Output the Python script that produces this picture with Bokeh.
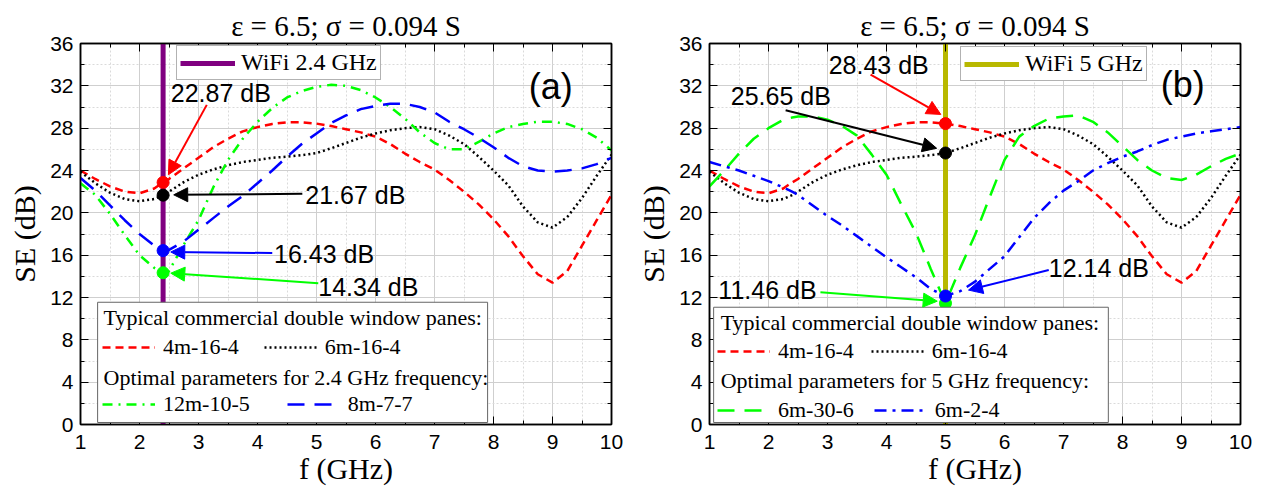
from bokeh.plotting import figure
from bokeh.layouts import row
from bokeh.models import (Label, Arrow, NormalHead, Legend, LegendItem, BoxAnnotation,
                          LinearAxis, SingleIntervalTicker, Range1d)
from bokeh.embed import file_html
from bokeh.resources import INLINE

# ---------------- data ----------------
freq = [1.0, 1.25, 1.5, 1.75, 2.0, 2.25, 2.4, 2.5, 2.75, 3.0, 3.25, 3.5, 3.75, 4.0, 4.25,
        4.5, 4.75, 5.0, 5.25, 5.5, 5.75, 6.0, 6.25, 6.5, 6.75, 7.0, 7.25, 7.5, 7.75, 8.0,
        8.25, 8.5, 8.75, 9.0, 9.25, 9.5, 9.75, 10.0]

se_4m_16_4 = [24.0, 23.2, 22.5, 22.0, 21.85, 22.3, 22.87, 23.2, 24.2, 25.2, 26.2, 27.0, 27.7,
              28.1, 28.4, 28.55, 28.55, 28.43, 28.2, 27.9, 27.6, 27.2, 26.5, 25.6, 24.8, 24.1,
              23.1, 22.0, 20.8, 19.4, 17.8, 15.9, 14.2, 13.4, 14.5, 16.9, 19.3, 21.7]
se_6m_16_4 = [23.9, 22.8, 21.9, 21.3, 21.1, 21.3, 21.67, 22.0, 22.9, 23.6, 24.1, 24.5, 24.8,
              25.0, 25.2, 25.3, 25.45, 25.65, 26.1, 26.6, 27.1, 27.5, 27.8, 28.0, 28.1, 27.9,
              27.3, 26.5, 25.3, 24.0, 22.6, 20.6, 19.1, 18.6, 19.6, 21.4, 23.5, 25.5]
se_12m_10_5 = [22.8, 21.7, 19.9, 17.9, 16.0, 14.8, 14.34, 14.5, 17.0, 19.3, 22.4, 25.0, 27.0,
               28.6, 29.9, 30.9, 31.5, 31.9, 32.1, 32.0, 31.6, 30.9, 30.0, 28.9, 27.6, 26.6,
               26.0, 26.0, 26.7, 27.5, 28.1, 28.4, 28.6, 28.6, 28.4, 27.9, 27.1, 25.9]
se_8m_7_7 = [23.3, 22.1, 20.7, 19.3, 18.0, 16.9, 16.43, 16.5, 17.3, 18.4, 19.5, 20.6, 21.6,
             22.8, 24.0, 25.3, 26.5, 27.5, 28.5, 29.2, 29.8, 30.1, 30.3, 30.3, 30.0, 29.5,
             28.6, 27.9, 27.1, 26.2, 25.2, 24.4, 24.0, 23.9, 24.0, 24.2, 24.6, 25.2]
se_6m_30_6 = [22.5, 24.0, 25.6, 27.0, 28.0, 28.8, 29.0, 29.1, 29.1, 28.8, 28.2, 27.3, 25.5,
              23.6, 20.8, 18.1, 14.7, 11.46, 14.8, 17.9, 21.5, 25.0, 27.2, 28.2, 28.9, 29.1,
              29.2, 28.6, 27.6, 26.3, 25.0, 24.0, 23.3, 23.1, 23.6, 24.4, 25.1, 25.6]
se_6m_2_4 = [24.8, 24.4, 24.0, 23.5, 23.0, 22.4, 22.0, 21.7, 20.7, 19.7, 18.8, 17.8, 16.8,
             15.8, 14.85, 13.9, 12.8, 12.14, 12.6, 13.5, 14.7, 15.9, 17.7, 19.5, 20.9, 22.1,
             23.0, 24.0, 24.7, 25.3, 25.8, 26.4, 26.9, 27.2, 27.5, 27.7, 27.9, 28.1]

wifi_a = 2.4
wifi_b = 5.0
title_text = "\u03b5 = 6.5; \u03c3 = 0.094 S"
header_typ = "Typical commercial double window panes:"
header_opt_a = "Optimal parameters for 2.4 GHz frequency:"
header_opt_b = "Optimal parameters for 5 GHz frequency:"

SERIF = "Liberation Serif"
SANS = "Liberation Sans"
TICKFONT = "Liberation Sans"


def base_panel(min_left, min_right):
    p = figure(frame_width=531, frame_height=381, x_range=Range1d(1, 10), y_range=Range1d(0, 36),
               output_backend="svg", toolbar_location=None,
               min_border_left=min_left, min_border_right=min_right,
               min_border_top=43, min_border_bottom=54)
    p.title.text = title_text
    p.title.text_font = SERIF
    p.title.text_font_size = "29px"
    p.title.text_font_style = "normal"
    p.title.text_color = "black"
    p.title.align = "center"
    p.title.standoff = 4
    xt = SingleIntervalTicker(interval=1, num_minor_ticks=2)
    yt = SingleIntervalTicker(interval=4, num_minor_ticks=2)
    p.xaxis.ticker = xt
    p.yaxis.ticker = yt
    p.xgrid.ticker = xt
    p.ygrid.ticker = yt
    for g in (p.xgrid, p.ygrid):
        g.grid_line_color = "#cfcfcf"
        g.grid_line_width = 1
        g.minor_grid_line_color = "#dadada"
        g.minor_grid_line_dash = "2 2"
    p.outline_line_color = "black"
    p.outline_line_width = 1.5
    p.xaxis.axis_label = "f (GHz)"
    p.yaxis.axis_label = "SE (dB)"
    for ax in (p.xaxis, p.yaxis):
        ax.axis_label_text_font = SERIF
        ax.axis_label_text_font_size = "30px"
        ax.axis_label_text_font_style = "normal"
        ax.axis_label_text_color = "black"
        ax.axis_label_standoff = 6
        ax.major_label_text_font = TICKFONT
        ax.major_label_text_font_size = "21px"
        ax.major_label_text_color = "black"
        ax.major_tick_in = 8
        ax.major_tick_out = 0
        ax.minor_tick_in = 4
        ax.minor_tick_out = 0
        ax.major_label_standoff = 7
        ax.axis_line_width = 1.5
        ax.major_tick_line_color = "black"
        ax.minor_tick_line_color = "black"
    p.xaxis.axis_label_standoff = 0
    p.xaxis.major_label_standoff = 10
    # mirrored ticks on top and right
    for place, tk in (("above", xt), ("right", yt)):
        ax = LinearAxis(ticker=tk, major_tick_in=8, major_tick_out=0, minor_tick_in=4,
                        minor_tick_out=0, major_label_text_font_size="0px",
                        major_label_standoff=0, axis_line_width=1.5)
        p.add_layout(ax, place)
    return p


def add_panel_content(p, wifi_f, wifi_color, wifi_label, series, vline_leg_loc,
                      box, headers, rows, annotations, tag, tag_pos):
    # wifi vertical line
    vl = p.line([wifi_f, wifi_f], [p.y_range.start, p.y_range.end], line_color=wifi_color,
                line_width=5)
    rends = []
    for name, ys, color, dash, lw in series:
        r = p.line(freq, ys, line_color=color, line_dash=dash, line_width=lw)
        rends.append((name, r, ys, color))
    idx = freq.index(wifi_f)
    for name, r, ys, color in rends:
        p.scatter([wifi_f], [ys[idx]], size=12, color=color)
    # top legend
    lg = Legend(items=[LegendItem(label=wifi_label, renderers=[vl])], location=vline_leg_loc,
                label_text_font=SERIF, label_text_font_size="24px", label_text_color="black",
                glyph_width=55, label_standoff=6, padding=3, margin=0,
                border_line_color="#666666", border_line_width=1,
                background_fill_color="white", background_fill_alpha=1)
    p.add_layout(lg)
    # bottom legend box
    l, r_, b, t = box
    p.add_layout(BoxAnnotation(left=l, right=r_, bottom=b, top=t, fill_color="white",
                               fill_alpha=1, line_color="#666666", line_width=1, line_alpha=1))
    for text, (hx, hy) in headers:
        p.add_layout(Label(x=hx, y=hy, text=text, text_font=SERIF, text_font_size="22px",
                           text_color="black", text_baseline="middle", text_align="left"))
    lookup = {name: r for name, r, ys, color in rends}
    for names, loc, spacing in rows:
        items = [LegendItem(label=n, renderers=[lookup[n]]) for n in names]
        lgr = Legend(items=items, orientation="horizontal", location=loc, padding=0, margin=0,
                     spacing=spacing, glyph_width=53, label_standoff=8,
                     border_line_alpha=0, background_fill_alpha=0,
                     label_text_font=SERIF, label_text_font_size="22px",
                     label_text_color="black", label_height=24, glyph_height=24)
        p.add_layout(lgr)
    # value annotations
    vals = {name: ys[idx] for name, r, ys, color in rends}
    cols = {name: color for name, r, ys, color in rends}
    for name, (lx, ly), (sx, sy), (ex, ey) in annotations:
        c = cols[name]
        p.add_layout(Arrow(end=NormalHead(size=14, fill_color=c, line_color=c),
                           x_start=sx, y_start=sy, x_end=ex, y_end=ey,
                           line_color=c, line_width=2))
        p.add_layout(Label(x=lx, y=ly, text=f"{vals[name]:.2f} dB", text_font=SANS,
                           text_font_size="25px", text_color="black",
                           text_baseline="middle", text_align="left"))
    p.add_layout(Label(x=tag_pos[0], y=tag_pos[1], text=tag, text_font=SANS,
                       text_font_size="36px", text_color="black",
                       text_baseline="middle", text_align="center"))


RED, BLACK, GREEN, BLUE = "#ff0000", "#000000", "#00ff00", "#0000ff"

pa = base_panel(80, 20)
add_panel_content(
    pa, wifi_a, "#800080", "WiFi 2.4 GHz",
    [("4m-16-4", se_4m_16_4, RED, "8 5", 2.5),
     ("6m-16-4", se_6m_16_4, BLACK, "2 3", 2.5),
     ("12m-10-5", se_12m_10_5, GREEN, "10 6 2 6", 2.5),
     ("8m-7-7", se_8m_7_7, BLUE, "17 10", 2.5)],
    (96, 344),
    (1.29, 7.9, 0.19, 11.55),
    [(header_typ, (1.39, 10.13)), (header_opt_a, (1.39, 4.45))],
    [(["4m-16-4", "6m-16-4"], (22, 64), 25), (["12m-10-5", "8m-7-7"], (22, 7), 37)],
    [("4m-16-4", (2.53, 31.3), (3.14, 30.2), (2.49, 23.6)),
     ("6m-16-4", (4.81, 21.7), (4.76, 21.8), (2.58, 21.7)),
     ("8m-7-7", (4.28, 16.1), (4.25, 16.2), (2.53, 16.3)),
     ("12m-10-5", (5.03, 13.0), (5.03, 13.35), (2.53, 14.3))],
    "(a)", (8.97, 31.9))

pb = base_panel(78, 14)
add_panel_content(
    pb, wifi_b, "#b8b800", "WiFi 5 GHz",
    [("4m-16-4", se_4m_16_4, RED, "8 5", 2.5),
     ("6m-16-4", se_6m_16_4, BLACK, "2 3", 2.5),
     ("6m-30-6", se_6m_30_6, GREEN, "17 10", 2.5),
     ("6m-2-4", se_6m_2_4, BLUE, "12 6 3 6", 2.5)],
    (251, 343),
    (1.07, 7.76, 0.19, 11.08),
    [(header_typ, (1.19, 9.66)), (header_opt_b, (1.19, 4.17))],
    [(["4m-16-4", "6m-16-4"], (8, 60), 17), (["6m-30-6", "6m-2-4"], (8, 1), 20)],
    [("4m-16-4", (3.02, 34.0), (3.73, 33.05), (4.92, 29.3)),
     ("6m-16-4", (1.36, 31.0), (2.29, 29.7), (4.85, 26.1)),
     ("6m-30-6", (1.15, 12.7), (2.88, 12.5), (4.86, 11.65)),
     ("6m-2-4", (6.75, 14.8), (6.75, 14.6), (5.39, 12.7))],
    "(b)", (9.02, 32.1))

layout = row(pa, pb)
open("out.html", "w").write(file_html(layout, INLINE))
